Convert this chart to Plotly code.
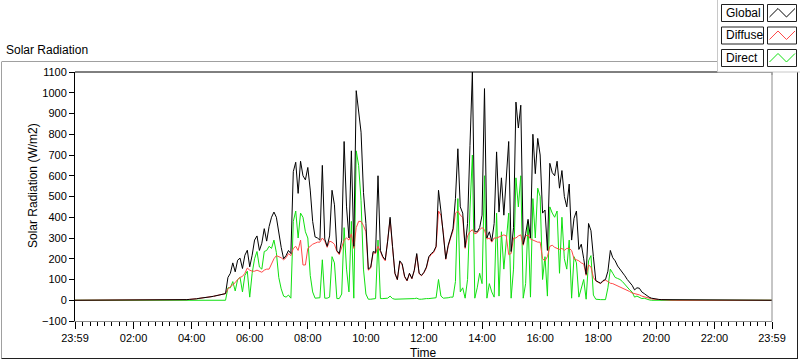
import plotly.graph_objects as go

# ---------------- data (5-minute samples starting 03:30) ----------------
START_HOUR = 3.5
STEP_H = 5 / 60

g03 = [0, 0, 1, 2, 3, 4]
g04 = [4, 6, 7, 9, 10, 12, 13, 15, 17, 19, 21, 24]
g05 = [28, 30, 32, 110, 130, 180, 137, 193, 203, 153, 217, 241]
g06 = [161, 217, 290, 310, 240, 275, 345, 285, 355, 400, 425, 400]
g07 = [320, 255, 200, 215, 240, 225, 620, 665, 515, 670, 600, 580]
g08 = [640, 531, 380, 305, 300, 290, 650, 295, 260, 310, 530, 460]
g09 = [240, 225, 290, 765, 450, 300, 720, 260, 1010, 900, 810, 520]
g10 = [370, 150, 160, 235, 230, 600, 240, 210, 195, 285, 400, 260]
g11 = [130, 100, 190, 175, 115, 95, 130, 105, 145, 225, 130, 120]
g12 = [135, 160, 210, 225, 235, 260, 530, 430, 330, 200, 265, 310]
g13 = [345, 490, 730, 450, 420, 255, 370, 745, 1100, 330, 330, 350]
g14 = [410, 1020, 300, 330, 285, 370, 715, 425, 590, 410, 570, 765]
g15 = [235, 350, 955, 830, 940, 270, 320, 390, 300, 800, 610, 780]
g16 = [700, 420, 435, 240, 660, 615, 600, 670, 540, 625, 500, 450]
g17 = [560, 290, 395, 430, 245, 270, 200, 125, 370, 335, 210, 95]
g18 = [88, 82, 95, 100, 140, 240, 205, 190, 165, 150, 137, 118]
g19 = [100, 85, 72, 50, 60, 58, 40, 32, 22, 15, 10, 7]
g20 = [5, 4, 3, 3, 2, 2, 1, 0, 0, 0, 0, 0]

d03 = [0, 0, 1, 2, 3, 4]
d04 = [4, 6, 7, 9, 10, 12, 13, 15, 17, 19, 21, 24]
d05 = [28, 30, 32, 55, 65, 75, 85, 100, 110, 115, 130, 155]
d06 = [145, 140, 140, 145, 140, 135, 145, 150, 150, 175, 200, 215]
d07 = [210, 205, 195, 205, 225, 215, 250, 260, 240, 290, 170, 170]
d08 = [250, 260, 270, 275, 280, 280, 300, 285, 255, 285, 280, 270]
d09 = [235, 220, 260, 290, 300, 290, 320, 250, 350, 380, 380, 360]
d10 = [330, 145, 155, 230, 225, 260, 235, 205, 190, 280, 390, 255]
d11 = [128, 98, 185, 170, 112, 93, 128, 103, 143, 220, 128, 118]
d12 = [133, 155, 205, 220, 230, 255, 430, 410, 325, 197, 260, 300]
d13 = [335, 420, 430, 410, 400, 250, 310, 330, 340, 320, 325, 340]
d14 = [350, 340, 295, 300, 280, 300, 300, 305, 310, 315, 310, 220]
d15 = [225, 300, 300, 310, 315, 265, 310, 315, 295, 290, 285, 280]
d16 = [280, 200, 190, 210, 260, 265, 255, 250, 245, 250, 240, 250]
d17 = [250, 240, 200, 195, 190, 180, 175, 120, 170, 160, 110, 93]
d18 = [86, 80, 92, 97, 90, 82, 80, 75, 68, 64, 60, 52]
d19 = [48, 42, 35, 33, 30, 26, 20, 16, 12, 10, 7, 5]
d20 = [4, 3, 3, 2, 2, 1, 1, 0, 0, 0, 0, 0]

b03 = [0, 0, 0, 0, 0, 0]
b04 = [0, 0, 0, 0, 0, 0, 0, 0, 0, 0, 0, 0]
b05 = [0, 0, 0, 60, 60, 90, 45, 100, 110, 40, 120, 140]
b06 = [15, 130, 200, 235, 160, 150, 235, 240, 260, 250, 290, 230]
b07 = [110, 55, 20, 15, 25, 10, 380, 430, 300, 420, 400, 330]
b08 = [300, 120, 40, 10, 10, 12, 195, 10, 10, 15, 210, 180]
b09 = [8, 8, 30, 350, 150, 40, 380, 10, 720, 650, 480, 150]
b10 = [30, 5, 5, 8, 8, 290, 8, 8, 8, 10, 20, 8]
b11 = [5, 5, 5, 5, 5, 5, 5, 5, 8, 10, 5, 5]
b12 = [8, 8, 8, 10, 10, 12, 100, 20, 10, 10, 12, 15]
b13 = [15, 90, 490, 40, 60, 10, 100, 440, 700, 10, 60, 130]
b14 = [80, 600, 10, 80, 40, 15, 420, 20, 330, 150, 300, 420]
b15 = [10, 150, 590, 450, 600, 10, 80, 380, 15, 490, 300, 540]
b16 = [500, 100, 210, 20, 450, 420, 400, 430, 130, 400, 200, 150]
b17 = [290, 10, 210, 180, 15, 60, 100, 5, 190, 215, 25, 5]
b18 = [3, 3, 3, 3, 60, 150, 130, 110, 105, 100, 90, 75]
b19 = [65, 50, 40, 15, 20, 12, 8, 10, 5, 2, 0, 0]
b20 = [0, 0, 0, 0, 0, 0, 0, 0, 0, 0, 0, 0]

GLOBAL = g03 + g04 + g05 + g06 + g07 + g08 + g09 + g10 + g11 + g12 + g13 + g14 + g15 + g16 + g17 + g18 + g19 + g20
DIFFUSE = d03 + d04 + d05 + d06 + d07 + d08 + d09 + d10 + d11 + d12 + d13 + d14 + d15 + d16 + d17 + d18 + d19 + d20
DIRECT = b03 + b04 + b05 + b06 + b07 + b08 + b09 + b10 + b11 + b12 + b13 + b14 + b15 + b16 + b17 + b18 + b19 + b20

X_START = -1 / 60          # 23:59 of the previous day
X_END = 24 - 1 / 60        # 23:59
TICK_VALS = [X_START, 2, 4, 6, 8, 10, 12, 14, 16, 18, 20, 22, X_END]
TICK_TEXT = ["23:59", "02:00", "04:00", "06:00", "08:00", "10:00", "12:00",
             "14:00", "16:00", "18:00", "20:00", "22:00", "23:59"]
SERIES_NAMES = ["Global", "Diffuse", "Direct"]
SERIES_COLORS = ["#000000", "#ff4848", "#10e010"]

hours = [START_HOUR + i * STEP_H for i in range(len(GLOBAL))]
t_all = [X_START] + hours + [21.0, X_END]


def full(vals):
    return [0] + list(vals) + [0, 0]


# ---------------- layout geometry ----------------
W, H = 800, 361
L, R, T, B = 75, 28, 72, 40
PW, PH = W - L - R, H - T - B


def PX(px):
    return (px - L) / PW


def PY(py):
    return (H - B - py) / PH


fig = go.Figure()
for name, vals, col in [("Direct", DIRECT, SERIES_COLORS[2]),
                        ("Diffuse", DIFFUSE, SERIES_COLORS[1]),
                        ("Global", GLOBAL, SERIES_COLORS[0])]:
    fig.add_trace(go.Scatter(x=t_all, y=full(vals), mode="lines", name=name,
                             line=dict(color=col, width=1), showlegend=False,
                             hoverinfo="skip"))

FONT = "Liberation Sans"
shapes = []
# outer frame
shapes.append(dict(type="line", xref="paper", yref="paper", x0=PX(2), x1=PX(718), y0=PY(61.5), y1=PY(61.5),
                   line=dict(color="#a0a0a0", width=1)))
shapes.append(dict(type="line", xref="paper", yref="paper", x0=PX(1.5), x1=PX(1.5), y0=PY(61.5), y1=PY(358.5),
                   line=dict(color="#a0a0a0", width=1)))
shapes.append(dict(type="line", xref="paper", yref="paper", x0=PX(1.5), x1=PX(798), y0=PY(358.5), y1=PY(358.5),
                   line=dict(color="#202020", width=1)))
shapes.append(dict(type="line", xref="paper", yref="paper", x0=PX(797.5), x1=PX(797.5), y0=PY(72), y1=PY(358.5),
                   line=dict(color="#202020", width=1)))
# plot frame: top black, right grey
shapes.append(dict(type="line", xref="paper", yref="paper", x0=0, x1=1, y0=1, y1=1,
                   line=dict(color="#000000", width=1)))
shapes.append(dict(type="line", xref="paper", yref="paper", x0=1, x1=1, y0=0, y1=1,
                   line=dict(color="#8c8c8c", width=1)))

# legend panel
shapes.append(dict(type="rect", xref="paper", yref="paper", x0=PX(717.5), x1=PX(800), y0=PY(72), y1=PY(0),
                   fillcolor="#ffffff", line=dict(width=0), layer="above"))
shapes.append(dict(type="line", xref="paper", yref="paper", x0=PX(717.5), x1=PX(717.5), y0=PY(72), y1=PY(0),
                   line=dict(color="#c8c8c8", width=1), layer="above"))
shapes.append(dict(type="line", xref="paper", yref="paper", x0=PX(717.5), x1=PX(800), y0=PY(72), y1=PY(72),
                   line=dict(color="#c8c8c8", width=1), layer="above"))
shapes.append(dict(type="line", xref="paper", yref="paper", x0=PX(772), x1=PX(772), y0=PY(72), y1=PY(75),
                   line=dict(color="#8c8c8c", width=1), layer="above"))

annotations = []
item_tops = [4.5, 27, 49.5]
for name, col, top in zip(SERIES_NAMES, SERIES_COLORS, item_tops):
    bot = top + 17
    shapes.append(dict(type="rect", xref="paper", yref="paper", x0=PX(721.5), x1=PX(763.5), y0=PY(bot), y1=PY(top),
                       fillcolor="#ffffff", line=dict(color="#202020", width=1), layer="above"))
    shapes.append(dict(type="rect", xref="paper", yref="paper", x0=PX(767.5), x1=PX(796.5), y0=PY(bot), y1=PY(top),
                       fillcolor="#ffffff", line=dict(color="#202020", width=1), layer="above"))
    zz = [(769.5, top + 12.5), (778, top + 4), (786.5, top + 12.5), (795, top + 4)]
    path = "M " + " L ".join(f"{PX(a):.5f},{PY(b):.5f}" for a, b in zz)
    shapes.append(dict(type="path", xref="paper", yref="paper", path=path,
                       line=dict(color=col, width=1), layer="above"))
    annotations.append(dict(text=name, xref="paper", yref="paper", x=PX(723.5), y=PY(top + 8.5),
                            xanchor="left", yanchor="middle", showarrow=False,
                            font=dict(family=FONT, size=12, color="#000000")))

annotations.append(dict(text="Solar Radiation", xref="paper", yref="paper", x=PX(4), y=PY(50),
                        xanchor="left", yanchor="middle", showarrow=False,
                        font=dict(family=FONT, size=12, color="#000000")))
annotations.append(dict(text="Solar Radiation (W/m2)", xref="paper", yref="paper", x=PX(33), y=PY(186),
                        xanchor="center", yanchor="middle", showarrow=False, textangle=-90,
                        font=dict(family=FONT, size=12, color="#000000")))
annotations.append(dict(text="Time", xref="paper", yref="paper", x=PX(423), y=PY(353),
                        xanchor="center", yanchor="middle", showarrow=False,
                        font=dict(family=FONT, size=12, color="#000000")))

fig.update_layout(
    width=W, height=H,
    margin=dict(l=L, r=R, t=T, b=B, pad=0),
    paper_bgcolor="#ffffff", plot_bgcolor="#ffffff",
    showlegend=False,
    shapes=shapes, annotations=annotations,
    xaxis=dict(range=[X_START, X_END], tickmode="array", tickvals=TICK_VALS, ticktext=TICK_TEXT,
               ticks="outside", ticklen=7, tickwidth=1, tickcolor="#000000",
               showline=True, linecolor="#8c8c8c", linewidth=1,
               showgrid=False, zeroline=False,
               tickfont=dict(family=FONT, size=11, color="#000000"),
               minor=dict(tick0=0, dtick=0.25, ticks="outside", ticklen=4, tickwidth=1,
                          tickcolor="#000000", showgrid=False)),
    yaxis=dict(range=[-100, 1100], tickmode="linear", tick0=0, dtick=100,
               ticks="outside", ticklen=5, tickwidth=1, tickcolor="#000000",
               showline=True, linecolor="#000000", linewidth=1,
               showgrid=False, zeroline=False,
               tickfont=dict(family=FONT, size=11, color="#000000")),
)

fig.write_html("out.html", config={"displayModeBar": False, "staticPlot": True},
               post_script="document.body.style.margin='0px';document.body.style.overflow='hidden';")
